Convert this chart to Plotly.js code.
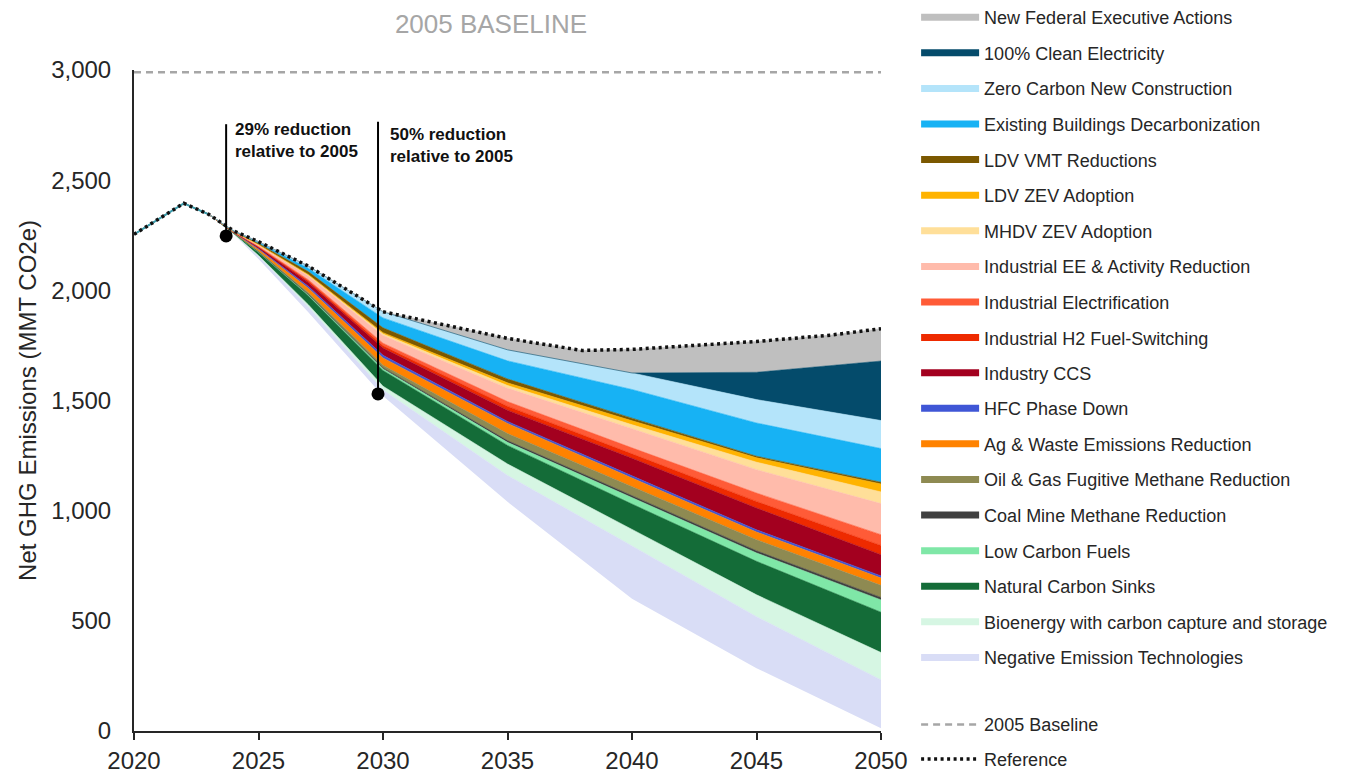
<!DOCTYPE html>
<html>
<head>
<meta charset="utf-8">
<script src="https://cdn.plot.ly/plotly-3.0.1.min.js"></script>
<style>
html, body { margin: 0; padding: 0; background: #ffffff; }
#chart { width: 1352px; height: 773px; }
</style>
</head>
<body>
<div id="chart"></div>
<script>
// ---------- DATA (MMT CO2e) ----------
const years    = [2020, 2021, 2022, 2023, 2024, 2025, 2027, 2030, 2035, 2040, 2045, 2050];
const refYears = [2020, 2021, 2022, 2023, 2024, 2025, 2027, 2030, 2035, 2038, 2040, 2045, 2048, 2050];
const reference = [2254, 2325, 2395, 2345, 2270, 2221, 2110, 1903, 1782, 1727, 1732, 1768, 1797, 1826];
const baseline2005 = 2990;

// emissions level remaining after each measure (stacked from the Reference downward)
const afterFederal        = [2254, 2325, 2395, 2345, 2270, 2221, 2110, 1903, 1730, 1625, 1628, 1679];
const afterCleanElec      = [2254, 2325, 2395, 2345, 2270, 2221, 2110, 1903, 1730, 1625, 1504, 1409];
const afterZeroCarbonNew  = [2254, 2325, 2395, 2345, 2269, 2218, 2100, 1875, 1680, 1550, 1398, 1282];
const afterExistingBldg   = [2254, 2325, 2395, 2345, 2268, 2213, 2085, 1830, 1598, 1420, 1247, 1129];
const afterLdvVmt         = [2254, 2325, 2395, 2345, 2267, 2208, 2072, 1808, 1580, 1408, 1240, 1121];
const afterLdvZev         = [2254, 2325, 2395, 2345, 2267, 2207, 2069, 1802, 1568, 1390, 1220, 1085];
const afterMhdvZev        = [2254, 2325, 2395, 2345, 2267, 2206, 2066, 1795, 1556, 1372, 1186, 1032];
const afterIndEE          = [2254, 2325, 2395, 2345, 2265, 2199, 2048, 1760, 1495, 1285, 1080, 891];
const afterIndElec        = [2254, 2325, 2395, 2345, 2265, 2197, 2042, 1748, 1474, 1258, 1042, 842];
const afterIndH2          = [2254, 2325, 2395, 2345, 2264, 2195, 2036, 1738, 1456, 1238, 1012, 800];
const afterIndCCS         = [2254, 2325, 2395, 2345, 2263, 2189, 2018, 1705, 1405, 1158, 913, 704];
const afterHfc            = [2254, 2325, 2395, 2345, 2262, 2186, 2010, 1693, 1396, 1148, 903, 694];
const afterAgWaste        = [2254, 2325, 2395, 2345, 2261, 2178, 1990, 1660, 1350, 1110, 868, 661];
const afterOilGas         = [2254, 2325, 2395, 2345, 2260, 2175, 1982, 1648, 1318, 1068, 818, 606];
const afterCoalMine       = [2254, 2325, 2395, 2345, 2260, 2174, 1979, 1643, 1310, 1058, 808, 595];
const afterLowCarbonFuels = [2254, 2325, 2395, 2345, 2260, 2172, 1975, 1636, 1296, 1030, 770, 539];
const afterNaturalSinks   = [2254, 2325, 2395, 2345, 2257, 2158, 1935, 1565, 1212, 915, 618, 356];
const afterBeccs          = [2254, 2325, 2395, 2345, 2256, 2154, 1925, 1548, 1160, 840, 519, 232];
const afterNet            = [2254, 2325, 2395, 2345, 2254, 2142, 1900, 1520, 1040, 600, 285, 12];

const measureNames = [
  'New Federal Executive Actions', '100% Clean Electricity', 'Zero Carbon New Construction',
  'Existing Buildings Decarbonization', 'LDV VMT Reductions', 'LDV ZEV Adoption', 'MHDV ZEV Adoption',
  'Industrial EE & Activity Reduction', 'Industrial Electrification', 'Industrial H2 Fuel-Switching',
  'Industry CCS', 'HFC Phase Down', 'Ag & Waste Emissions Reduction', 'Oil & Gas Fugitive Methane Reduction',
  'Coal Mine Methane Reduction', 'Low Carbon Fuels', 'Natural Carbon Sinks',
  'Bioenergy with carbon capture and storage', 'Negative Emission Technologies'
];
const measureColors = [
  '#bfbfbf', '#044b6b', '#b4e4fa', '#17b2f4', '#7b5800', '#ffb300', '#ffdf99',
  '#ffbbab', '#ff5b37', '#ee2a00', '#a3001f', '#3f56d6', '#ff8200', '#8e8a52',
  '#404040', '#7fe7a7', '#146c38', '#d6f6e3', '#d9ddf6'
];
const levelArrays = [
  afterFederal, afterCleanElec, afterZeroCarbonNew, afterExistingBldg, afterLdvVmt, afterLdvZev,
  afterMhdvZev, afterIndEE, afterIndElec, afterIndH2, afterIndCCS, afterHfc, afterAgWaste,
  afterOilGas, afterCoalMine, afterLowCarbonFuels, afterNaturalSinks, afterBeccs, afterNet
];

const milestoneYears  = [2023.7, 2029.8];
const milestoneValues = [2247, 1530];
const milestoneTops   = [2754, 2765];
const milestoneLabels = ['29% reduction<br>relative to 2005', '50% reduction<br>relative to 2005'];
const labelX = [2024.0, 2030.23];
const labelY = [2778, 2756];

// ---------- TRACES ----------
const FONT = 'Liberation Sans, Arial, Helvetica, sans-serif';
const TXT = '#262626';
const traces = [];

// lowest boundary (net pathway), no fill
traces.push({ x: years, y: afterNet, mode: 'lines', line: { width: 0 }, showlegend: false, hoverinfo: 'skip' });

// stacked wedges, drawn from the bottom up
for (let i = measureNames.length - 1; i >= 0; i--) {
  const top = i === 0 ? reference : levelArrays[i - 1];
  const xs = i === 0 ? refYears : years;
  traces.push({
    x: xs, y: top, mode: 'lines', name: measureNames[i],
    line: { width: 0.6, color: measureColors[i] },
    fill: 'tonexty', fillcolor: measureColors[i],
    showlegend: false, hoverinfo: 'skip'
  });
}

// historical segment under the reference line
traces.push({ x: refYears.slice(0, 4), y: reference.slice(0, 4), mode: 'lines',
  line: { color: '#3f9fb0', width: 2 }, showlegend: false, hoverinfo: 'skip' });

// 2005 baseline
traces.push({ x: [2020, 2050], y: [baseline2005, baseline2005], mode: 'lines', name: '2005 Baseline',
  line: { color: '#a6a6a6', width: 2.5, dash: '7px,5px' }, legend: 'legend2', legendgroup: 'b1', legendrank: 1 });

// reference
traces.push({ x: refYears, y: reference, mode: 'lines', name: 'Reference',
  line: { color: '#111111', width: 3.5, dash: '3px,3.5px' }, legend: 'legend2', legendgroup: 'b2', legendrank: 2 });

// milestone markers
traces.push({ x: milestoneYears, y: milestoneValues, mode: 'markers',
  marker: { color: '#000000', size: 13 }, showlegend: false, hoverinfo: 'skip' });

// legend entries for the wedges (thick bars), split over two legend boxes
measureNames.forEach((n, i) => {
  traces.push({ x: [null], y: [null], mode: 'lines', name: n,
    line: { color: measureColors[i], width: 7 }, legend: i < 10 ? 'legend' : 'legend3',
    legendgroup: 'g' + i, legendrank: i + 1 });
});

const shapes = milestoneYears.map((x, i) => ({
  type: 'line', xref: 'x', yref: 'y', x0: x, x1: x, y0: milestoneValues[i], y1: milestoneTops[i],
  line: { color: '#000000', width: 2 }, layer: 'above'
}));

const annotations = milestoneLabels.map((t, i) => ({
  xref: 'x', yref: 'y', x: labelX[i], y: labelY[i], text: '<b>' + t + '</b>',
  showarrow: false, xanchor: 'left', yanchor: 'top', align: 'left', borderpad: 0,
  font: { family: FONT, size: 17, color: '#111111' }
}));

const legendCommon = {
  x: 1.047, xanchor: 'left', yanchor: 'top', xref: 'paper', yref: 'paper',
  font: { family: FONT, size: 18, color: TXT },
  itemwidth: 58, tracegroupgap: 9.2, bgcolor: 'rgba(0,0,0,0)', borderwidth: 0,
  itemclick: false, itemdoubleclick: false
};

const layout = {
  width: 1352, height: 773,
  margin: { l: 134, r: 471, t: 70, b: 42, autoexpand: false },
  paper_bgcolor: '#ffffff', plot_bgcolor: '#ffffff',
  font: { family: FONT, color: TXT },
  title: { text: '2005 BASELINE', font: { family: FONT, size: 26, color: '#a6a6a6' },
    xref: 'container', x: 491 / 1352, xanchor: 'center', yref: 'container', y: 1 - 24 / 773, yanchor: 'middle' },
  xaxis: {
    range: [2020, 2050], tickvals: [2020, 2025, 2030, 2035, 2040, 2045, 2050],
    ticks: 'outside', ticklen: 7, tickwidth: 2, tickcolor: TXT,
    showline: true, linewidth: 2, linecolor: TXT, showgrid: false, zeroline: false,
    tickfont: { family: FONT, size: 24, color: TXT }, automargin: false, fixedrange: true
  },
  yaxis: {
    range: [0, 3000], tickvals: [0, 500, 1000, 1500, 2000, 2500, 3000], tickformat: ',',
    ticks: 'outside', ticklen: 16, tickcolor: 'rgba(0,0,0,0)',
    showline: true, linewidth: 2, linecolor: TXT, showgrid: false, zeroline: false,
    tickfont: { family: FONT, size: 24, color: TXT }, automargin: false, fixedrange: true,
    title: { text: 'Net GHG Emissions (MMT CO2e)', font: { family: FONT, size: 24, color: TXT }, standoff: 8 }
  },
  legend: Object.assign({}, legendCommon, { y: 1.1074 }),
  legend3: Object.assign({}, legendCommon, { y: 0.5697 }),
  legend2: Object.assign({}, legendCommon, { y: 0.0375, tracegroupgap: 8.2 }),
  shapes: shapes,
  annotations: annotations,
  showlegend: true
};

Plotly.newPlot('chart', traces, layout, { displayModeBar: false, responsive: false });
</script>
</body>
</html>
